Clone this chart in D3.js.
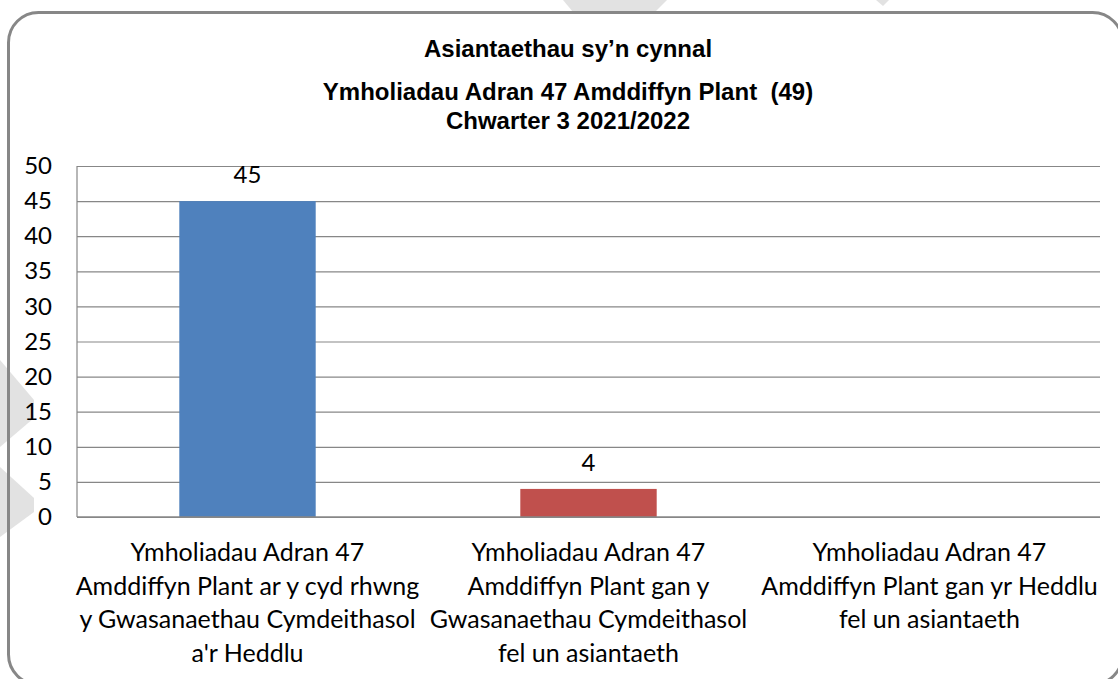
<!DOCTYPE html>
<html>
<head>
<meta charset="utf-8">
<script src="https://cdn.jsdelivr.net/npm/d3@7"></script>
<style>
	body { margin: 0; background: #ffffff; }
	svg { display: block; }
	.title { white-space: pre; }
</style>
</head>
<body>
<div id="chart"></div>
<script>

// chart data
var titleLines = ["Asiantaethau sy\u2019n cynnal", "Ymholiadau Adran 47 Amddiffyn Plant  (49)", "Chwarter 3 2021/2022"];
var categories = [
	["Ymholiadau Adran 47", "Amddiffyn Plant ar y cyd rhwng", "y Gwasanaethau Cymdeithasol", "a'r Heddlu"],
	["Ymholiadau Adran 47", "Amddiffyn Plant gan y", "Gwasanaethau Cymdeithasol", "fel un asiantaeth"],
	["Ymholiadau Adran 47", "Amddiffyn Plant gan yr Heddlu", "fel un asiantaeth"]
];
var values = [45, 4, null];
var barColors = ["#4F81BD", "#C0504D", "#9BBB59"];
var yTicks = [0, 5, 10, 15, 20, 25, 30, 35, 40, 45, 50];

function init(){

	var w = 1118;
	var h = 679;
	var plot = {left: 77, right: 1100, top: 166, bottom: 517};
	var bodyFont = "Lato, 'Open Sans', sans-serif";

	var svg = d3.select("#chart")
				.append("svg")
				.attr("width", w)
				.attr("height", h);

	// faint background shapes from the page behind the chart
	var shapes = [
		[[563,0],[667,0],[655,12],[573,12]],
		[[876,0],[889,0],[883,6]],
		[[0,360],[34,400],[34,418],[0,447]],
		[[0,467],[34,498],[34,512],[0,537]]
	];
	svg.selectAll("polygon.bg")
		.data(shapes)
		.enter()
		.append("polygon")
		.attr("class", "bg")
		.attr("points", function(d){ return d.join(" "); })
		.attr("fill", "#e2e2e2");

	// rounded chart border
	svg.append("rect")
		.attr("x", 8.5)
		.attr("y", 12.5)
		.attr("width", 1114)
		.attr("height", 672)
		.attr("rx", 30)
		.attr("fill", "none")
		.attr("stroke", "#878787")
		.attr("stroke-width", 3);

	// title
	var titleY = [57, 100, 129];
	svg.selectAll("text.title")
		.data(titleLines)
		.enter()
		.append("text")
		.attr("class", "title")
		.attr("x", 568)
		.attr("y", function(d, i){ return titleY[i]; })
		.attr("text-anchor", "middle")
		.attr("font-family", "'Liberation Sans', Arimo, Arial, sans-serif")
		.attr("font-weight", "bold")
		.attr("font-size", "24px")
		.attr("fill", "#000")
		.text(function(d){ return d; });

	var xScale = d3.scaleBand()
					.domain(d3.range(categories.length))
					.range([plot.left, plot.right])
					.paddingInner(0.6)
					.paddingOuter(0.3);

	var yScale = d3.scaleLinear()
					.domain([0, 50])
					.range([plot.bottom, plot.top]);

	// y axis with gridlines
	var yAxis = d3.axisLeft(yScale)
					.tickValues(yTicks)
					.tickSize(-(plot.right - plot.left))
					.tickPadding(25);

	var gy = svg.append("g")
				.attr("transform", "translate(" + plot.left + ",0)")
				.call(yAxis);
	gy.select(".domain").remove();
	gy.selectAll(".tick line")
		.attr("stroke", "#878787")
		.attr("stroke-width", 1.2);
	gy.selectAll(".tick text")
		.attr("font-family", bodyFont)
		.attr("font-size", "24px")
		.attr("fill", "#000");

	svg.append("line")
		.attr("x1", plot.left).attr("x2", plot.left)
		.attr("y1", plot.top).attr("y2", plot.bottom)
		.attr("stroke", "#878787")
		.attr("stroke-width", 1.2);

	// bars
	svg.selectAll("rect.bar")
		.data(values)
		.enter()
		.append("rect")
		.filter(function(d){ return d != null; })
		.attr("class", "bar")
		.attr("x", function(d, i){ return xScale(i); })
		.attr("y", function(d){ return yScale(d); })
		.attr("width", xScale.bandwidth())
		.attr("height", function(d){ return yScale(0) - yScale(d); })
		.attr("fill", function(d, i){ return barColors[i]; });

	// x axis line
	svg.append("line")
		.attr("x1", plot.left).attr("x2", plot.right)
		.attr("y1", plot.bottom).attr("y2", plot.bottom)
		.attr("stroke", "#878787")
		.attr("stroke-width", 1.5);

	// value labels
	svg.selectAll("text.value")
		.data(values)
		.enter()
		.append("text")
		.filter(function(d){ return d != null; })
		.attr("class", "value")
		.attr("x", function(d, i){ return xScale(i) + xScale.bandwidth()/2; })
		.attr("y", function(d){ return yScale(d) - 18; })
		.attr("text-anchor", "middle")
		.attr("font-family", bodyFont)
		.attr("font-size", "24px")
		.attr("fill", "#000")
		.text(function(d){ return d; });

	// category labels
	var cat = svg.selectAll("text.cat")
		.data(categories)
		.enter()
		.append("text")
		.attr("class", "cat")
		.attr("text-anchor", "middle")
		.attr("font-family", bodyFont)
		.attr("font-size", "25px")
		.attr("fill", "#000");

	cat.selectAll("tspan")
		.data(function(d, i){ return d.map(function(s){ return {s: s, i: i}; }); })
		.enter()
		.append("tspan")
		.attr("x", function(d){ return xScale(d.i) + xScale.bandwidth()/2; })
		.attr("y", function(d, j){ return 561 + j*33.5; })
		.text(function(d){ return d.s; });
}

window.onload = init;
</script>
</body>
</html>
